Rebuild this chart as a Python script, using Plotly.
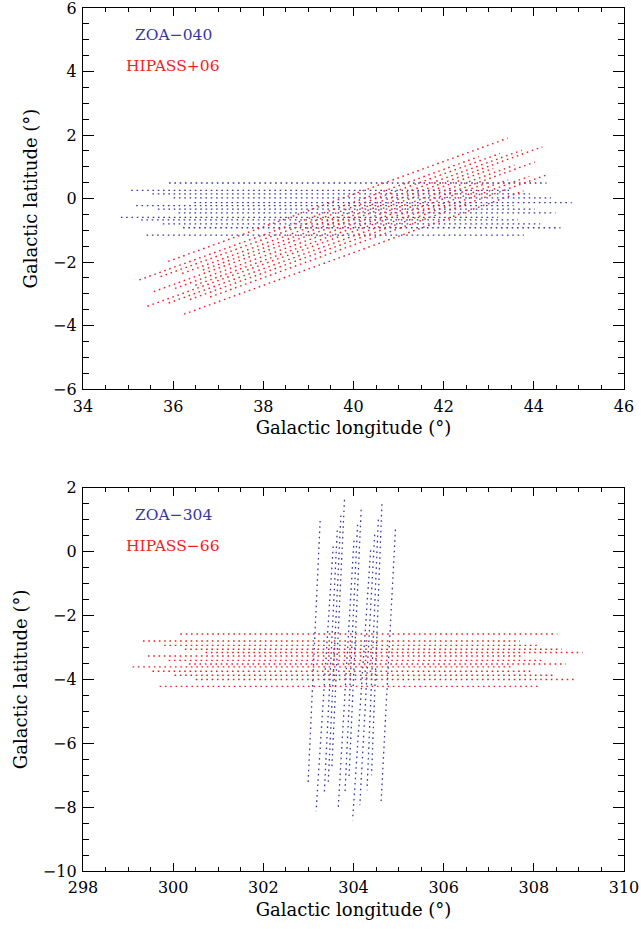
import plotly.graph_objects as go

# ---------------- data ----------------
# Top panel: ZOA-040 beam tracks (constant latitude), blue
zoa040_b      = [0.49, 0.26, 0.15, 0.02, -0.13, -0.22, -0.33, -0.45, -0.59, -0.67, -0.80, -0.92, -1.15]
zoa040_lstart = [35.91, 35.07, 35.54, 36.01, 36.47, 35.18, 35.66, 36.12, 34.84, 35.29, 35.77, 36.22, 35.41]
zoa040_lend   = [44.28, 43.45, 43.91, 44.38, 44.84, 43.55, 44.02, 44.48, 43.21, 43.65, 44.14, 44.59, 43.78]

# Top panel: HIPASS+06 beam tracks (tilted), red
hip06_l0 = [35.89, 35.25, 35.72, 36.20, 36.66, 35.57, 36.04, 36.49, 35.43, 35.90, 36.37, 36.82, 36.24]
hip06_b0 = [-1.98, -2.56, -2.46, -2.36, -2.25, -2.93, -2.83, -2.73, -3.39, -3.29, -3.18, -3.10, -3.64]
hip06_l1 = [43.42, 42.78, 43.25, 43.73, 44.19, 43.10, 43.57, 44.02, 42.96, 43.43, 43.90, 44.33, 43.77]
hip06_b1 = [1.90, 1.32, 1.42, 1.52, 1.63, 0.95, 1.05, 1.15, 0.49, 0.59, 0.70, 0.77, 0.24]

# Bottom panel: ZOA-304 beam tracks (near-vertical), blue
zoa304_l0 = [303.26, 303.80, 303.72, 303.64, 303.55, 304.17, 304.09, 304.01, 304.63, 304.55, 304.47, 304.38, 304.93]
zoa304_b0 = [0.96, 1.62, 1.13, 0.66, 0.16, 1.31, 0.84, 0.34, 1.48, 1.00, 0.53, 0.04, 0.69]
zoa304_l1 = [302.99, 303.52, 303.44, 303.35, 303.17, 303.90, 303.81, 303.66, 304.40, 304.30, 304.14, 303.98, 304.61]
zoa304_b1 = [-7.32, -6.75, -7.21, -7.62, -8.13, -7.08, -7.58, -8.05, -7.00, -7.47, -7.94, -8.41, -7.91]

# Bottom panel: HIPASS-66 beam tracks (constant latitude), red
hip66_b      = [-2.58, -2.80, -2.935, -3.06, -3.16, -3.27, -3.405, -3.52, -3.61, -3.745, -3.87, -4.005, -4.22]
hip66_lstart = [300.16, 299.33, 299.80, 300.26, 300.72, 299.44, 299.90, 300.35, 299.10, 299.54, 300.03, 300.50, 299.70]
hip66_lend   = [308.52, 307.69, 308.14, 308.62, 309.08, 307.79, 308.25, 308.71, 307.51, 307.97, 308.45, 308.93, 308.12]

labels_top = ["ZOA−040", "HIPASS+06"]
labels_bottom = ["ZOA−304", "HIPASS−66"]

BLUE = "rgb(55,55,165)"
RED = "rgb(245,30,30)"
FONT = "DejaVu Serif"
DASH = "1.6px,3.7px"


def segs(l0, b0, l1, b1):
    xs, ys = [], []
    for a, b, c, d in zip(l0, b0, l1, b1):
        xs += [a, c, None]
        ys += [b, d, None]
    return xs, ys


fig = go.Figure()

def add(xs, ys, color, xa, ya, w):
    fig.add_trace(go.Scatter(x=xs, y=ys, mode="lines", xaxis=xa, yaxis=ya,
                             line=dict(color=color, width=w, dash=DASH),
                             showlegend=False, hoverinfo="skip"))

x, y = segs(zoa040_lstart, zoa040_b, zoa040_lend, zoa040_b)
add(x, y, BLUE, "x", "y", 1.3)
x, y = segs(hip06_l0, hip06_b0, hip06_l1, hip06_b1)
add(x, y, RED, "x", "y", 1.4)
x, y = segs(zoa304_l0, zoa304_b0, zoa304_l1, zoa304_b1)
add(x, y, BLUE, "x2", "y2", 1.3)
x, y = segs(hip66_lstart, hip66_b, hip66_lend, hip66_b)
add(x, y, RED, "x2", "y2", 1.4)

H = 929.0
top_px, bot_px = 7.5, 870.7
ph = bot_px - top_px

def dom(y_top, y_bot):
    return [(bot_px - y_bot) / ph, (bot_px - y_top) / ph]

title_font = dict(family=FONT, size=18, color="black")
tick_font = dict(family=FONT, size=16, color="black")

common_x = dict(showgrid=False, zeroline=False, showline=True, linecolor="black", linewidth=1.4,
                mirror="ticks", ticks="inside", ticklen=8, tickwidth=1.2, tickcolor="black",
                dtick=2, minor=dict(ticks="inside", ticklen=4, tickwidth=1.1, dtick=0.5, tickcolor="black"),
                tickfont=tick_font, automargin=False, ticklabelstandoff=2, ticklabeloverflow="allow",
                title=dict(text="Galactic longitude (°)", font=title_font, standoff=6))
common_y = dict(showgrid=False, zeroline=False, showline=True, linecolor="black", linewidth=1.4,
                mirror="ticks", ticks="inside", ticklen=11, tickwidth=1.2, tickcolor="black",
                dtick=2, minor=dict(ticks="inside", ticklen=5.5, tickwidth=1.1, dtick=0.5, tickcolor="black"),
                tickfont=tick_font, automargin=False, ticklabelstandoff=2, ticklabeloverflow="allow",
                title=dict(text="Galactic latitude (°)", font=title_font, standoff=10))

fig.update_layout(
    width=641, height=929,
    margin=dict(l=83.3, r=17, t=top_px, b=H - bot_px, pad=0, autoexpand=False),
    plot_bgcolor="white", paper_bgcolor="white",
    xaxis=dict(common_x, range=[34, 46], tick0=34, domain=[0, 1], anchor="y"),
    yaxis=dict(common_y, range=[-6, 6], tick0=-6, domain=dom(top_px, 388.7), anchor="x"),
    xaxis2=dict(common_x, range=[298, 310], tick0=298, domain=[0, 1], anchor="y2"),
    yaxis2=dict(common_y, range=[-10, 2], tick0=-10, domain=dom(487.3, 870.7), anchor="x2"),
)

ann = [
    dict(x=36.0, y=5.16, xref="x", yref="y", text=labels_top[0], font=dict(color=BLUE)),
    dict(x=36.0, y=4.18, xref="x", yref="y", text=labels_top[1], font=dict(color=RED)),
    dict(x=300.0, y=1.15, xref="x2", yref="y2", text=labels_bottom[0], font=dict(color=BLUE)),
    dict(x=300.0, y=0.18, xref="x2", yref="y2", text=labels_bottom[1], font=dict(color=RED)),
]
for a in ann:
    a["font"].update(family=FONT, size=15.5)
    a.update(showarrow=False, xanchor="center", yanchor="middle")
fig.update_layout(annotations=ann)

fig.write_html("out.html", config={"displayModeBar": False},
               post_script="document.body.style.margin='0px';")
